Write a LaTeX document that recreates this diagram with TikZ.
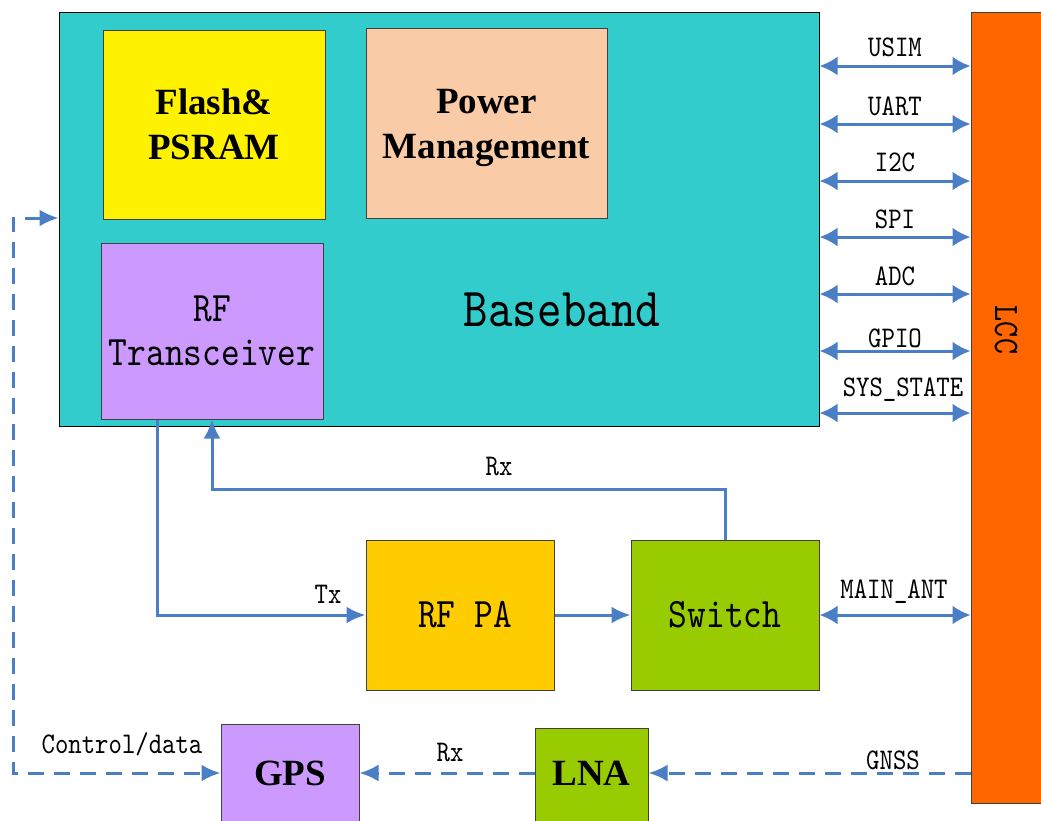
\documentclass[tikz,border=0pt]{standalone}
\usepackage{fontspec}
\setmainfont{Liberation Serif}
\newfontfamily\monolab[FakeStretch=0.85]{lmmono10-regular.otf}
\usetikzlibrary{arrows.meta}
\definecolor{bbcyan}{RGB}{51,204,204}
\definecolor{peach}{RGB}{250,203,167}
\definecolor{lilac}{RGB}{204,153,255}
\definecolor{lccorange}{RGB}{255,102,0}
\definecolor{pagold}{RGB}{255,204,0}
\definecolor{swgreen}{RGB}{153,204,0}
\definecolor{linkblue}{RGB}{74,126,197}
\tikzset{
  blk/.style={draw=black!75, line width=1pt, inner sep=0pt},
  boldtxt/.style={font=\fontsize{37}{45}\selectfont\bfseries, align=center},
  montxt/.style={font=\monolab\fontsize{42}{44}\selectfont, align=center},
  lab/.style={font=\monolab\fontsize{30}{32}\selectfont, inner sep=0pt},
  bus/.style={draw=linkblue, line width=3pt, {Latex[length=18pt,width=19pt]}-{Latex[length=18pt,width=19pt]}},
  rfline/.style={draw=linkblue, line width=3pt, -{Latex[length=19pt,width=17pt]}},
  dsh/.style={draw=linkblue, line width=3pt, dash pattern=on 16pt off 10pt}
}
\begin{document}
\begin{tikzpicture}[x=1pt,y=-1pt]
  \clip (0,0) rectangle (1041,820);
  % blocks
  \node[blk, draw=black, fill=bbcyan, minimum width=760pt, minimum height=414pt] (bb) at (439,219) {};
  \node[blk, fill=yellow, minimum width=222pt, minimum height=189pt, boldtxt] (flash) at (214,124.5) {Flash\&\\PSRAM};
  \node[blk, fill=peach, minimum width=241pt, minimum height=190pt, boldtxt] (pwr) at (486.5,123) {\rule{0pt}{34pt}Power\\Management};
  \node[blk, fill=lilac, minimum width=222pt, minimum height=176pt, montxt] (rftr) at (212,331) {RF\\Transceiver};
  \node[font=\monolab\fontsize{55}{60}\selectfont] (bbtxt) at (562,310) {Baseband};
  \node[blk, fill=lccorange, minimum width=70pt, minimum height=791pt] (lcc) at (1006,407.5) {};
  \node[font=\monolab\fontsize{36}{40}\selectfont, rotate=-90] (lcctxt) at (1006,330) {LCC};
  \node[blk, fill=pagold, minimum width=188pt, minimum height=150pt, montxt] (rfpa) at (460,615) {\hspace*{10pt}RF PA};
  \node[blk, fill=swgreen, minimum width=188pt, minimum height=150pt, montxt] (switch) at (725,615) {Switch};
  \node[blk, fill=swgreen, minimum width=113pt, minimum height=100pt, boldtxt, text depth=10pt] (lna) at (591.5,778) {LNA};
  \node[blk, fill=lilac, minimum width=138pt, minimum height=104pt, boldtxt, text depth=6pt] (gps) at (290,776) {GPS};
  % interfaces to LCC
  \foreach \txt/\y/\lx/\ly [count=\i] in {USIM/66/895/47, UART/124/895/106, I2C/181/895/162, SPI/237/895/219,
      ADC/294/895/276, GPIO/351/895/338, SYS\_STATE/413/903/390} {
    \draw[bus] (bb.east |- 0,\y) -- (lcc.west |- 0,\y);
    \node[lab] (if\i) at (\lx,\ly) {\txt};
  }
  % RF chain
  \draw[rfline] ([xshift=-55pt]rftr.south) |- (rfpa.west);
  \node[lab] (txlab) at (328,594) {Tx};
  \draw[rfline] (switch.north) -- (switch.north |- 0,489) -| (rftr.south);
  \node[lab] (rxlab) at (499,466) {Rx};
  \draw[rfline] (rfpa.east) -- (switch.west);
  \draw[bus] (switch.east) -- (lcc.west |- switch.east);
  \node[lab] (antlab) at (894,592) {MAIN\_ANT};
  % GNSS path
  \coordinate (ctl) at (13,218);
  \draw[dsh, -{Latex[length=19pt,width=17pt]}] (lcc.west |- 0,773) -- (lna.east |- 0,773);
  \node[lab] (gnsslab) at (893,760) {GNSS};
  \draw[dsh, -{Latex[length=19pt,width=17pt]}] (lna.west |- 0,773) -- (gps.east |- 0,773);
  \node[lab] (rx2lab) at (450,752) {Rx};
  \draw[dsh, {Latex[length=19pt,width=17pt]}-{Latex[length=19pt,width=17pt]}] (bb.west |- ctl) -- (ctl) |- (gps.west |- 0,773);
  \node[lab] (ctllab) at (122,744) {Control/data};
\end{tikzpicture}
\end{document}
